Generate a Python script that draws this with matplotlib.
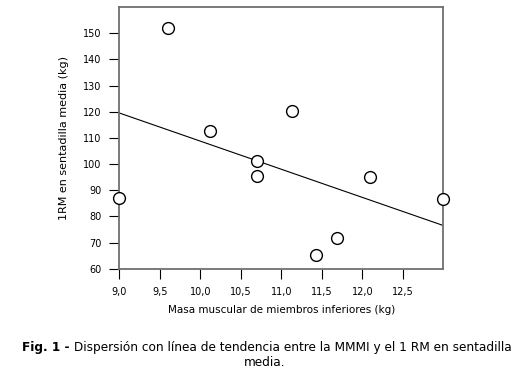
import matplotlib.pyplot as plt
import numpy as np

# masa muscular (kg) y 1RM (kg)
masa = np.array([9.0, 9.6, 10.12, 10.7, 10.7, 11.13, 11.43, 11.69, 12.09, 13.0])
rm = np.array([87.0, 152.0, 112.7, 101.0, 95.4, 120.3, 65.1, 71.9, 94.9, 86.7])

# extremos de la linea de tendencia
trend_x = np.array([9.0, 13.0])
trend_y = np.array([119.5, 76.5])

xticks = [9.0, 9.5, 10.0, 10.5, 11.0, 11.5, 12.0, 12.5]
yticks = [60, 70, 80, 90, 100, 110, 120, 130, 140, 150]


def main():
    plt.rcParams['font.family'] = ['DejaVu Sans']
    fig = plt.figure(figsize=(5.3, 3.78), dpi=100)
    ax = fig.add_axes([119.3 / 530, 1 - 268.7 / 378, 324 / 530, 261.7 / 378])

    ax.plot(trend_x, trend_y, '-', c='black', lw=0.8)
    ax.plot(masa, rm, 'o', mfc='white', mec='black', ms=8.5, mew=1.0,
            clip_on=False, zorder=3)

    ax.set_xlim(9.0, 13.0)
    ax.set_ylim(60, 160)
    ax.set_xticks(xticks)
    ax.set_xticklabels([f'{v:.1f}'.replace('.', ',') for v in xticks])
    ax.set_yticks(yticks)
    ax.tick_params(direction='out', length=7, width=0.8, color='black',
                   labelsize=7, pad=6)

    for s in ax.spines.values():
        s.set_color('#707070')
        s.set_linewidth(1.3)

    ax.set_xlabel('Masa muscular de miembros inferiores (kg)', fontsize=7.5,
                  labelpad=6)
    ax.set_ylabel('1RM en sentadilla media (kg)', fontsize=8, labelpad=10)

    t = fig.text(22 / 530, 1 - 347 / 378, 'Fig. 1 -', fontsize=8.7,
                 fontweight='bold', ha='left', va='center')
    fig.canvas.draw()
    ax.annotate(' Dispersión con línea de tendencia entre la MMMI y el 1 RM en sentadilla',
                xy=(1, 0.5), xycoords=t, ha='left', va='center', fontsize=8.7)
    fig.text(265 / 530, 1 - 362 / 378, 'media.', fontsize=8.7,
             ha='center', va='center')

    plt.savefig('out.png', dpi=100)


if __name__ == "__main__":
    main()
